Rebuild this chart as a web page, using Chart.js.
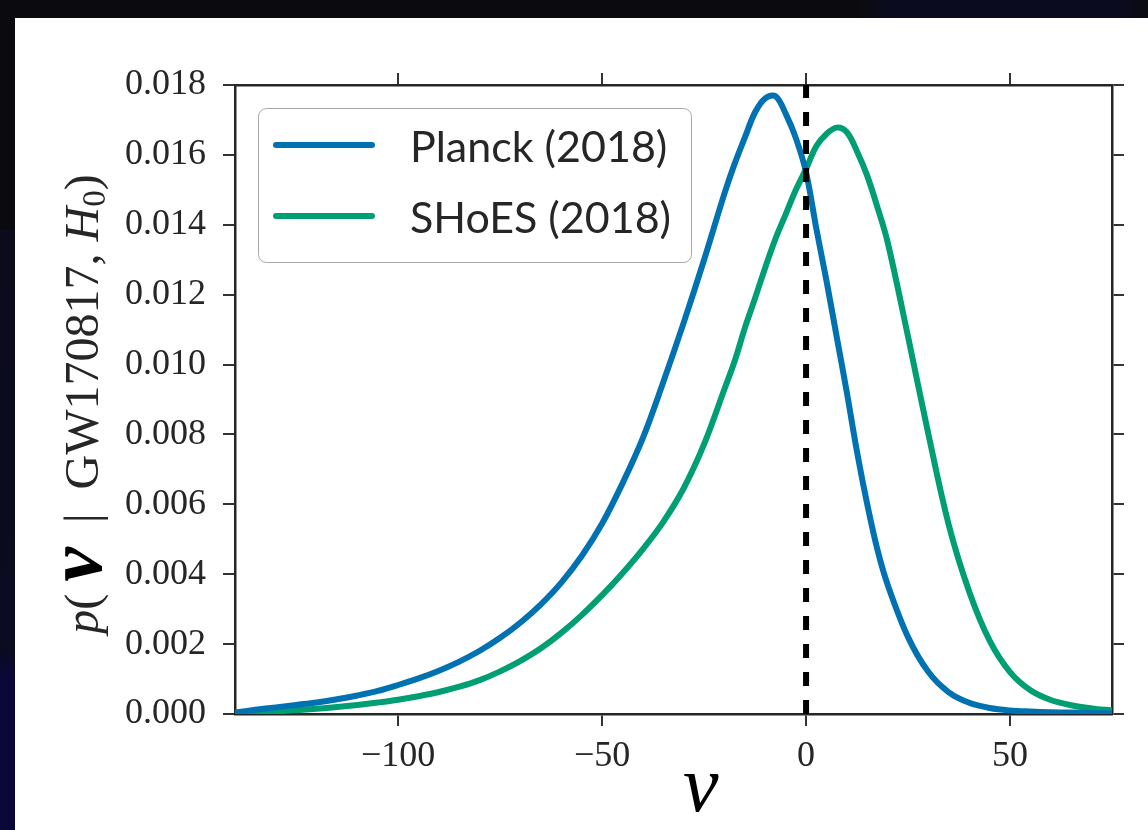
<!DOCTYPE html>
<html>
<head>
<meta charset="utf-8">
<script src="https://cdn.jsdelivr.net/npm/chart.js@4"></script>
<style>
  html, body { margin: 0; padding: 0; }
  body { width: 1148px; height: 830px; overflow: hidden; background: #0b0b0f; position: relative; }
  #stripLeft { position: absolute; left: 0; top: 230px; width: 15px; height: 600px;
    background: linear-gradient(#0b0b1c, #0b0b22 70%, #0a0838 75%, #0a0838); }
  #stripTop { position: absolute; left: 860px; top: 0; width: 288px; height: 18px;
    background: linear-gradient(90deg, #0b0b0f, #0b0b20 10%, #0b0b20 90%, #0b0b0f); }
  #panel { position: absolute; left: 15px; top: 18px; right: 0; bottom: 0; background: #fff; }
  #chart { position: absolute; left: 0; top: 0; }
</style>
</head>
<body>
<div id="stripLeft"></div>
<div id="stripTop"></div>
<div id="panel"></div>
<canvas id="chart" width="1148" height="830"></canvas>
<script>
// nu grid (x values), denser around the peaks
const nu = [-140, -135, -130, -125, -120, -115, -110, -105, -100, -95, -90, -85, -80, -75,
  -70, -65, -60, -55, -50, -45, -40, -35, -30, -25,
  -20, -17.5, -15, -12.5, -10, -7.5, -5, -2.5, 0, 2.5, 5, 7.5, 10, 12.5, 15, 17.5, 20,
  25, 30, 35, 40, 45, 50, 55, 60, 65, 70, 75];

// p(nu | GW170817, H0)
const planck = [0.00004, 0.00012, 0.00019, 0.00026, 0.00033, 0.00042, 0.00053, 0.00066, 0.00083, 0.00102,
  0.00124, 0.00150, 0.00181, 0.00218, 0.00262, 0.00314, 0.00376, 0.00452, 0.00545, 0.00660,
  0.00790, 0.00950, 0.01120, 0.01300,
  0.01490, 0.01575, 0.01650, 0.01722, 0.01762, 0.01768, 0.01718, 0.01648, 0.01550, 0.01390,
  0.01240, 0.01080, 0.00920, 0.00750, 0.00600, 0.00470, 0.00370,
  0.00220, 0.00120, 0.00062, 0.00032, 0.00017, 0.00010, 0.00007, 0.00005, 0.00004, 0.00003, 0.00002];

const shoes = [0.00002, 0.00004, 0.00007, 0.00011, 0.00015, 0.00020, 0.00026, 0.00033, 0.00041, 0.00051,
  0.00063, 0.00078, 0.00097, 0.00122, 0.00152, 0.00188, 0.00232, 0.00283, 0.00340, 0.00403,
  0.00472, 0.00550, 0.00646, 0.00772,
  0.00930, 0.01010, 0.01105, 0.01190, 0.01278, 0.01360, 0.01430, 0.01500, 0.01560, 0.01625,
  0.01660, 0.01678, 0.01665, 0.01610, 0.01540, 0.01450, 0.01350,
  0.01080, 0.00800, 0.00540, 0.00350, 0.00210, 0.00120, 0.00068, 0.00040, 0.00025, 0.00016, 0.00010];

const seriesLabels = ['Planck (2018)', 'SHoES (2018)'];
const refLineX = 0;

const xTicks = [-100, -50, 0, 50];
const yTicks = [0, 0.002, 0.004, 0.006, 0.008, 0.010, 0.012, 0.014, 0.016, 0.018];
const xRange = [-140, 75];
const yRange = [0, 0.018];

const BLUE = '#0072b2';
const GREEN = '#009e73';
const INK = '#262626';
const SERIF = '"Liberation Serif", "DejaVu Serif", serif';
const SANS = 'Lato, "Open Sans", sans-serif';

const points = arr => nu.map((x, i) => ({ x: x, y: arr[i] }));

function frameAxis(pos, size, ticks, range, showLabels) {
  const horiz = pos === 'bottom' || pos === 'top';
  return {
    type: 'linear',
    position: pos,
    min: range[0],
    max: range[1],
    afterBuildTicks: s => { s.ticks = ticks.map(v => ({ value: v })); },
    afterFit: s => { if (horiz) s.height = size; else s.width = size; },
    border: { display: true, color: '#262626', width: 2.5 },
    grid: { drawOnChartArea: false, drawTicks: true, tickLength: 12, color: '#333', lineWidth: 2 },
    ticks: {
      display: showLabels,
      color: INK,
      font: { family: SERIF, size: 36 },
      padding: horiz ? 9 : 17,
      maxRotation: 0,
      autoSkip: false,
      callback: v => {
        if (horiz) return (v < 0 ? '\u2212' : '') + Math.abs(v);
        return v.toFixed(3);
      }
    }
  };
}

// legend box drawn inside the plot, like matplotlib's upper-left legend
const insideLegend = {
  id: 'insideLegend',
  afterDatasetsDraw(chart) {
    const ctx = chart.ctx;
    const x0 = 258.5, y0 = 108.5, w = 433, h = 154, r = 8;
    ctx.save();
    ctx.beginPath();
    ctx.roundRect(x0, y0, w, h, r);
    ctx.fillStyle = 'rgba(255,255,255,0.85)';
    ctx.fill();
    ctx.strokeStyle = '#a8a8a8';
    ctx.lineWidth = 1;
    ctx.stroke();
    const rows = [{ y: 145, base: 162 }, { y: 216, base: 233 }];
    const series = chart.data.datasets.filter(ds => seriesLabels.includes(ds.label));
    series.forEach((ds, i) => {
      ctx.beginPath();
      ctx.moveTo(276, rows[i].y);
      ctx.lineTo(372, rows[i].y);
      ctx.strokeStyle = ds.borderColor;
      ctx.lineWidth = 6;
      ctx.lineCap = 'round';
      ctx.stroke();
      ctx.fillStyle = INK;
      ctx.font = '43px ' + SANS;
      ctx.textBaseline = 'alphabetic';
      ctx.textAlign = 'left';
      ctx.fillText(ds.label, 410, rows[i].base);
    });
    ctx.restore();
  }
};

// axis titles with mixed fonts
const axisTitles = {
  id: 'axisTitles',
  afterDraw(chart) {
    const ctx = chart.ctx;
    ctx.save();
    ctx.fillStyle = '#000';
    ctx.textBaseline = 'alphabetic';
    ctx.textAlign = 'left';
    ctx.font = 'italic 80px ' + SERIF;
    ctx.fillText('\u03bd', 683, 811);

    const parts = [
      { t: 'p', f: 'italic 48px ' + SERIF, dy: 0 },
      { t: '( ', f: '48px ' + SERIF, dy: 0 },
      { t: '\u03bd', f: 'italic bold 78px ' + SERIF, dy: 3, c: '#000' },
      { t: '  |  GW170817, ', f: '48px ' + SERIF, dy: 0 },
      { t: 'H', f: 'italic 48px ' + SERIF, dy: 0 },
      { t: '0', f: '33px ' + SERIF, dy: 7 },
      { t: ')', f: '48px ' + SERIF, dy: 0 }
    ];
    let total = 0;
    parts.forEach(p => { ctx.font = p.f; p.w = ctx.measureText(p.t).width; total += p.w; });
    ctx.translate(98, 404 + total / 2);
    ctx.rotate(-Math.PI / 2);
    let cx = 0;
    parts.forEach(p => {
      ctx.font = p.f;
      ctx.fillStyle = p.c || INK;
      ctx.fillText(p.t, cx, p.dy);
      cx += p.w;
    });
    ctx.restore();
  }
};

new Chart(document.getElementById('chart'), {
  type: 'line',
  data: {
    datasets: [
      {
        label: 'nu = 0',
        data: [{ x: refLineX, y: yRange[0] }, { x: refLineX, y: yRange[1] }],
        borderColor: '#000',
        borderWidth: 6,
        borderDash: [14, 14],
        borderCapStyle: 'butt',
        pointRadius: 0,
        xAxisID: 'x',
        yAxisID: 'y'
      },
      {
        label: seriesLabels[0],
        data: points(planck),
        borderColor: BLUE,
        borderWidth: 6,
        pointRadius: 0,
        tension: 0.35,
        borderJoinStyle: 'round',
        xAxisID: 'x',
        yAxisID: 'y'
      },
      {
        label: seriesLabels[1],
        data: points(shoes),
        borderColor: GREEN,
        borderWidth: 6,
        pointRadius: 0,
        tension: 0.35,
        borderJoinStyle: 'round',
        xAxisID: 'x',
        yAxisID: 'y'
      }
    ]
  },
  options: {
    responsive: false,
    animation: false,
    devicePixelRatio: 1,
    layout: { padding: 0, autoPadding: false },
    plugins: { legend: { display: false }, tooltip: { enabled: false } },
    scales: {
      x: frameAxis('bottom', 116, xTicks, xRange, true),
      x2: frameAxis('top', 85, xTicks, xRange, false),
      y: frameAxis('left', 235, yTicks, yRange, true),
      y2: frameAxis('right', 36, yTicks, yRange, false)
    }
  },
  plugins: [insideLegend, axisTitles]
});
</script>
</body>
</html>
